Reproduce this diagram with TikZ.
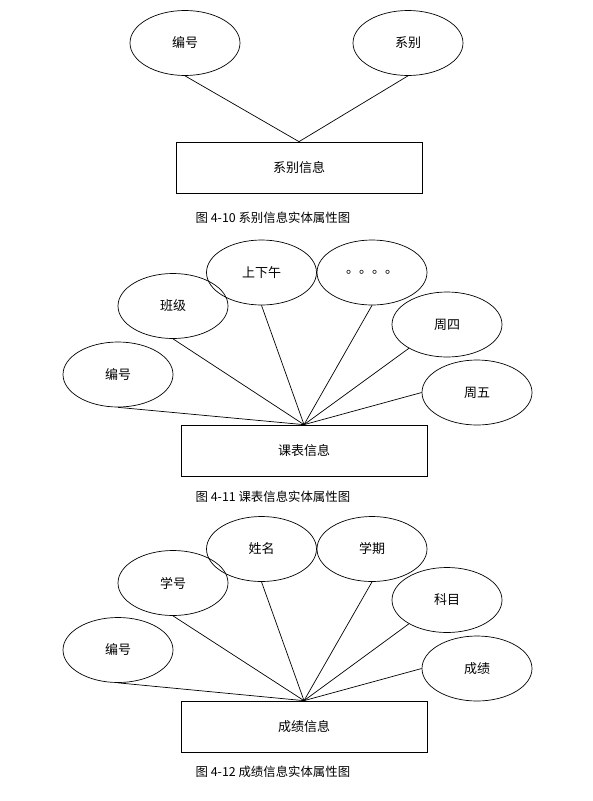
\documentclass[tikz,border=0pt]{standalone}
\usepackage{fontspec}
\setmainfont{Noto Sans CJK SC}
\usetikzlibrary{shapes.geometric}

\tikzset{
  attr/.style={draw, ellipse, minimum width=110pt, minimum height=65pt, inner sep=0pt},
  entity/.style={draw, rectangle, minimum width=246pt, minimum height=51pt, inner sep=0pt},
  figcap/.style={anchor=west, font=\fontsize{12.4}{14}\selectfont},
}

\begin{document}
\begin{tikzpicture}[x=1pt, y=-1pt, line width=0.7pt, every node/.style={font=\fontsize{13}{15}\selectfont}]
  \useasboundingbox (0,0) rectangle (593,801);

  % 系别信息
  \node[attr] (xbh) at (185,43) {编号};
  \node[attr] (xb) at (408,43) {系别};
  \node[entity] (xbxx) at (299,167.5) {系别信息};
  \draw (xbh.south) -- (xbxx.north);
  \draw (xb.south) -- (xbxx.north);
  \node[figcap] (cap1) at (192,218) {图 4-10 系别信息实体属性图};

  % 课表信息
  \node[attr] (kbh) at (118,374.5) {编号};
  \node[attr] (bj) at (173,306) {班级};
  \node[attr] (sxw) at (261.5,272.5) {上下午};
  \node[attr] (etc) at (372,272.5) {。。。。};
  \node[attr] (zs) at (447,324.5) {周四};
  \node[attr] (zw) at (477,392.5) {周五};
  \node[entity] (kbxx) at (304,450.5) {课表信息};
  \draw (kbh.south) -- (kbxx.north);
  \draw (bj.south) -- (kbxx.north);
  \draw (sxw.south) -- (kbxx.north);
  \draw (etc.south) -- (kbxx.north);
  \draw (zs.212) -- (kbxx.north);
  \draw (zw.west) -- (kbxx.north);
  \node[figcap] (cap2) at (192,497) {图 4-11 课表信息实体属性图};

  % 成绩信息
  \node[attr] (cbh) at (118,650) {编号};
  \node[attr] (xh) at (173,583) {学号};
  \node[attr] (xm) at (261.5,549) {姓名};
  \node[attr] (xq) at (372,549) {学期};
  \node[attr] (km) at (447,600) {科目};
  \node[attr] (cj) at (477,668.5) {成绩};
  \node[entity] (cjxx) at (304,726.5) {成绩信息};
  \draw (cbh.south) -- (cjxx.north);
  \draw (xh.south) -- (cjxx.north);
  \draw (xm.south) -- (cjxx.north);
  \draw (xq.south) -- (cjxx.north);
  \draw (km.212) -- (cjxx.north);
  \draw (cj.west) -- (cjxx.north);
  \node[figcap] (cap3) at (192,772) {图 4-12 成绩信息实体属性图};
\end{tikzpicture}
\end{document}
